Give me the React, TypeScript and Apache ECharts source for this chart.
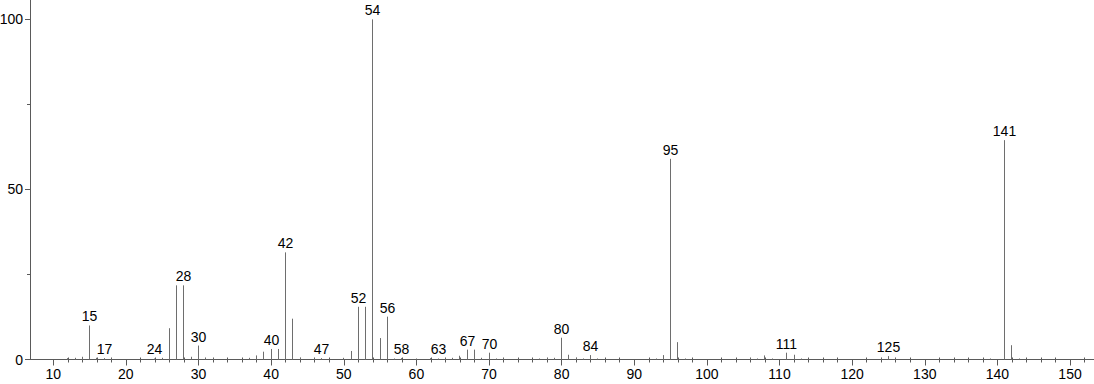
import React, { useEffect, useRef } from "react";
import * as echarts from "echarts";

const mzValues = [
  12, 13, 14, 15, 16, 17, 18, 24, 25, 26, 27, 28, 29, 30, 31, 32, 37, 38, 39, 40, 41, 42, 43, 44, 46, 47,
  50, 51, 52, 53, 54, 55, 56, 57, 58, 60, 62, 63, 64, 65, 66, 67, 68, 69, 70, 71, 72, 77, 78, 79, 80, 81,
  82, 83, 84, 85, 93, 94, 95, 96, 97, 106, 107, 108, 109, 111, 112, 113, 124, 125, 126, 139, 141, 142, 143,
];
const intensities = [
  0.4, 0.5, 0.8, 10.0, 0.5, 0.4, 0.3, 0.3, 0.5, 9.2, 21.8, 21.8, 0.8, 4.1, 0.6, 0.3, 0.5, 1.2, 2.3, 3.1, 3.1, 31.5, 12.0, 0.5, 0.3, 0.4,
  0.5, 2.5, 15.5, 15.5, 100, 6.3, 12.6, 0.3, 0.4, 0.3, 0.4, 0.3, 0.4, 0.5, 1.1, 2.9, 2.9, 0.5, 2.0, 0.3, 0.3, 0.3, 0.4, 0.5, 6.4, 1.4,
  0.5, 0.3, 1.3, 0.3, 0.3, 1.3, 59.0, 5.1, 0.3, 0.4, 0.3, 1.2, 0.3, 2.0, 1.4, 0.3, 0.4, 1.0, 0.4, 0.3, 64.5, 4.2, 0.3,
];
const labeledPeaks = [15, 17, 24, 28, 30, 40, 42, 47, 52, 54, 56, 58, 63, 67, 70, 80, 84, 95, 111, 125, 141];
const xMajorTicks = [10, 20, 30, 40, 50, 60, 70, 80, 90, 100, 110, 120, 130, 140, 150];
const xMinorTicks = [
  12, 14, 16, 18, 22, 24, 26, 28, 32, 34, 36, 38, 42, 44, 46, 48, 52, 54, 56, 58, 62, 64, 66, 68, 72, 74, 76, 78,
  82, 84, 86, 88, 92, 94, 96, 98, 102, 104, 106, 108, 112, 114, 116, 118, 122, 124, 126, 128, 132, 134, 136, 138,
  142, 144, 146, 148, 152,
];
const yMajorTicks = [0, 50, 100];
const yMinorTicks = [25, 75];

const X_MIN = 6.8;
const X_MAX = 153.3;
const Y_MAX = 105.7;
const FONT = "'Liberation Sans', Arial, sans-serif";
const FONT_SIZE = 14;
const AXIS_COLOR = "#5a5a5a";
const BAR_COLOR = "#6e6e6e";

export default function App() {
  const ref = useRef<HTMLDivElement>(null);
  useEffect(() => {
    document.body.style.margin = "0";
    if (!ref.current) return;
    const chart = echarts.init(ref.current, null, { renderer: "svg" });
    const data = mzValues.map((mz, i) => [mz, intensities[i], labeledPeaks.includes(mz) ? 1 : 0]);
    const baseX = {
      type: "value" as const,
      min: X_MIN,
      max: X_MAX,
      position: "bottom" as const,
      gridIndex: 0,
      splitLine: { show: false },
    };
    const baseY = {
      type: "value" as const,
      min: 0,
      max: Y_MAX,
      position: "left" as const,
      gridIndex: 0,
      splitLine: { show: false },
    };
    chart.setOption({
      animation: false,
      grid: { left: 30, right: 0, top: 0, bottom: 24.5, containLabel: false, outerBoundsMode: "none" },
      xAxis: [
        {
          ...baseX,
          axisLine: { show: true, lineStyle: { color: AXIS_COLOR, width: 1 } },
          axisTick: { show: true, length: 6, customValues: xMajorTicks, lineStyle: { color: AXIS_COLOR } },
          axisLabel: { show: true, customValues: xMajorTicks, color: "#000", fontSize: FONT_SIZE, fontFamily: FONT, margin: 7 },
        },
        {
          ...baseX,
          axisLine: { show: false },
          axisTick: { show: true, length: 3, customValues: xMinorTicks, lineStyle: { color: AXIS_COLOR } },
          axisLabel: { show: false },
        },
        {
          ...baseX,
          axisLine: { show: false },
          axisTick: { show: true, inside: true, length: 2, customValues: xMinorTicks, lineStyle: { color: AXIS_COLOR } },
          axisLabel: { show: false },
        },
      ],
      yAxis: [
        {
          ...baseY,
          axisLine: { show: true, lineStyle: { color: AXIS_COLOR, width: 1 } },
          axisTick: { show: true, length: 5, customValues: yMajorTicks, lineStyle: { color: AXIS_COLOR } },
          axisLabel: { show: true, customValues: yMajorTicks, color: "#000", fontSize: FONT_SIZE, fontFamily: FONT, margin: 7 },
        },
        {
          ...baseY,
          axisLine: { show: false },
          axisTick: { show: true, length: 3, customValues: yMinorTicks, lineStyle: { color: AXIS_COLOR } },
          axisLabel: { show: false },
        },
      ],
      series: [
        {
          type: "custom",
          xAxisIndex: 0,
          yAxisIndex: 0,
          encode: { x: 0, y: 1 },
          clip: false,
          renderItem: (params: any, api: any) => {
            const mz = api.value(0);
            const val = api.value(1);
            const showLabel = api.value(2) === 1;
            const base = api.coord([mz, 0]);
            const top = api.coord([mz, val]);
            const x = Math.floor(base[0]) + 0.5;
            const children: any[] = [
              {
                type: "line",
                shape: { x1: x, y1: base[1], x2: x, y2: top[1] },
                style: { stroke: BAR_COLOR, lineWidth: 1 },
              },
            ];
            if (showLabel) {
              children.push({
                type: "text",
                x: x,
                y: top[1] - 2,
                style: {
                  text: String(mz),
                  align: "center",
                  verticalAlign: "bottom",
                  fill: "#000",
                  fontSize: FONT_SIZE,
                  fontFamily: FONT,
                },
              });
            }
            return { type: "group", children };
          },
          data,
        },
      ],
    });
    return () => chart.dispose();
  }, []);
  return <div ref={ref} style={{ width: 1094, height: 384 }} />;
}
